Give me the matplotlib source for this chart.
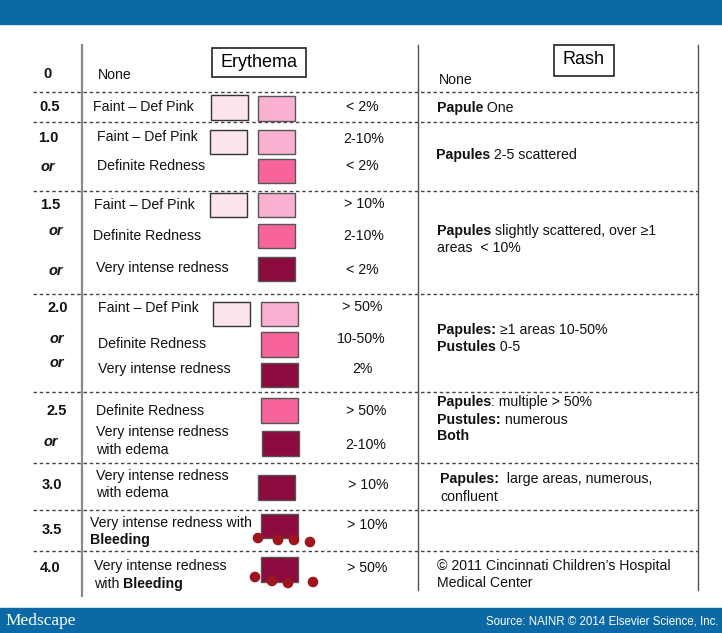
import matplotlib
matplotlib.use("Agg")
import matplotlib.pyplot as plt
from matplotlib.patches import Rectangle, Circle

plt.rcParams["font.family"] = ["Liberation Sans", "DejaVu Sans"]

BLUE = "#0b6aa5"
FAINT = "#fde4ee"; PINK = "#f8b1d1"; RED = "#f6649b"; DARK = "#8b0b3e"
DOT = "#a0141f"
SWATCH = {"faint": FAINT, "pink": PINK, "red": RED, "dark": DARK}

# ---- table content -------------------------------------------------------
scores = ["0", "0.5", "1.0", "or", "1.5", "or", "or", "2.0", "or", "or",
          "2.5", "or", "3.0", "3.5", "4.0"]

# erythema description lines, each as (text, bold) pieces
ery_lines = [
    [("None", False)],
    [("Faint \u2013 Def Pink", False)],
    [("Faint \u2013 Def Pink", False)],
    [("Definite Redness", False)],
    [("Faint \u2013 Def Pink", False)],
    [("Definite Redness", False)],
    [("Very intense redness", False)],
    [("Faint \u2013 Def Pink", False)],
    [("Definite Redness", False)],
    [("Very intense redness", False)],
    [("Definite Redness", False)],
    [("Very intense redness", False)],
    [("with edema", False)],
    [("Very intense redness", False)],
    [("with edema", False)],
    [("Very intense redness with", False)],
    [("Bleeding", True)],
    [("Very intense redness", False)],
    [("with ", False), ("Bleeding", True)],
]

percents = ["< 2%", "2-10%", "< 2%", "> 10%", "2-10%", "< 2%", "> 50%",
            "10-50%", "2%", "> 50%", "2-10%", "> 10%", "> 10%", "> 50%"]

# swatch kinds per erythema line (faint box, pink box, red box, dark box)
swatch_kinds = ["faint", "pink", "faint", "pink", "red", "faint", "pink", "red",
                "dark", "faint", "pink", "red", "dark", "red", "dark", "dark",
                "dark", "dark"]
bleeding_rows = [3.5, 4.0]

rash_lines = [
    [("None", False)],
    [("Papule", True), (" One", False)],
    [("Papules", True), (" 2-5 scattered", False)],
    [("Papules", True), (" slightly scattered, over \u22651", False)],
    [("areas  < 10%", False)],
    [("Papules:", True), (" \u22651 areas 10-50%", False)],
    [("Pustules", True), (" 0-5", False)],
    [("Papules", True), (": multiple > 50%", False)],
    [("Pustules:", True), (" numerous", False)],
    [("Both", True)],
    [("Papules:", True), ("  large areas, numerous,", False)],
    [("confluent", False)],
    [("\u00a9 2011 Cincinnati Children\u2019s Hospital", False)],
    [("Medical Center", False)],
]

# ---- layout (pixel coordinates) ------------------------------------------
score_xy = [(48, 74), (50, 107), (48, 138), (48, 167), (50, 205), (56, 231),
            (56, 271), (58, 308), (57, 339), (57, 363), (57, 411), (51, 442),
            (52, 485), (52, 530), (50, 568)]
ery_xy = [(98, 75), (93, 107), (97, 137), (97, 166), (94, 205), (93, 236),
          (96, 268), (98, 308), (98, 344), (98, 369), (96, 411), (96, 432),
          (96, 450), (96, 476), (96, 493), (90, 523), (90, 540), (94, 566),
          (94, 584)]
pct_xy = [(362, 107), (364, 139), (362, 166), (364, 204), (364, 236),
          (362, 270), (362, 307), (361, 339), (362, 369), (366, 411),
          (366, 445), (368, 485), (367, 525), (367, 568)]
# swatch boxes: x0, y0, x1, y1
swatch_box = [(211, 95, 248, 120), (258, 96, 295, 121),
              (210, 130, 247, 154), (258, 130, 295, 154), (258, 159, 295, 183),
              (210, 193, 247, 217), (258, 193, 295, 217), (258, 224, 295, 248),
              (258, 257, 295, 281),
              (213, 302, 250, 326), (261, 302, 298, 326), (261, 332, 298, 357),
              (261, 363, 298, 387),
              (261, 398, 298, 423), (262, 431, 299, 456),
              (258, 475, 295, 500), (261, 514, 298, 538), (261, 557, 298, 582)]
dots_xy = [[(258, 538), (278, 540), (294, 540), (310, 542)],
           [(255, 577), (272, 581), (288, 583), (313, 582)]]
rash_xy = [(439, 80), (437, 108), (436, 155), (437, 231), (437, 248),
           (437, 330), (437, 347), (437, 402), (437, 420), (437, 436),
           (440, 479), (440, 497), (437, 566), (437, 583)]
row_lines = [92, 122, 191, 294, 392, 463, 510, 551]

W, H = 722, 633
fig = plt.figure(figsize=(W / 100, H / 100), dpi=100)
ax = fig.add_axes([0, 0, 1, 1])
ax.set_xlim(0, W)
ax.set_ylim(H, 0)
ax.axis("off")
renderer = fig.canvas.get_renderer()


def rich(x, y, parts, size=10.2):
    for text, bold in parts:
        t = ax.text(x, y, text, fontsize=size, va="center", ha="left",
                    fontweight="bold" if bold else "normal", color="#111111")
        x += t.get_window_extent(renderer=renderer).width


# banners
ax.add_patch(Rectangle((0, 0), W, 24, color=BLUE, zorder=1))
ax.add_patch(Rectangle((0, 608), W, H - 608, color=BLUE, zorder=1))
ax.text(5, 621, "Medscape", family=["Liberation Serif"], fontsize=12.5,
        color="white", va="center", ha="left")
ax.text(718, 621, "Source: NAINR \u00a9 2014 Elsevier Science, Inc.",
        fontsize=8.3, color="white", va="center", ha="right")

# grid lines
ax.plot([82, 82], [45, 596], color="#8a8a8a", lw=1.6)
ax.plot([418, 418], [45, 590], color="#555555", lw=1.0)
ax.plot([698, 698], [45, 590], color="#555555", lw=1.0)
for y in row_lines:
    ax.plot([33, 698], [y, y], color="#444444", lw=1.0, ls=(0, (2.5, 2)))

# headers
ax.add_patch(Rectangle((212, 48), 94, 29, fill=False, ec="#222222", lw=1.2))
ax.text(259, 62.5, "Erythema", fontsize=13, ha="center", va="center")
ax.add_patch(Rectangle((554, 45), 60, 31, fill=False, ec="#222222", lw=1.2))
ax.text(584, 60, "Rash", fontsize=13, ha="center", va="center")

# scores
for s, (x, y) in zip(scores, score_xy):
    ax.text(x, y, s, fontsize=10.5, fontweight="bold", ha="center", va="center",
            style="italic" if s == "or" else "normal", color="#111111")

for parts, (x, y) in zip(ery_lines, ery_xy):
    rich(x, y, parts)
for p, (x, y) in zip(percents, pct_xy):
    ax.text(x, y, p, fontsize=10.2, ha="center", va="center", color="#111111")
for parts, (x, y) in zip(rash_lines, rash_xy):
    rich(x, y, parts)

# swatches
for kind, (x0, y0, x1, y1) in zip(swatch_kinds, swatch_box):
    ec = "#333333" if kind == "faint" else "#555555"
    ax.add_patch(Rectangle((x0, y0), x1 - x0, y1 - y0, fc=SWATCH[kind],
                           ec=ec, lw=1.0, zorder=3))
for row, pts in zip(bleeding_rows, dots_xy):
    for (x, y) in pts:
        ax.add_patch(Circle((x, y), 4.6, color=DOT, zorder=4))

fig.savefig("out.png", dpi=100)
